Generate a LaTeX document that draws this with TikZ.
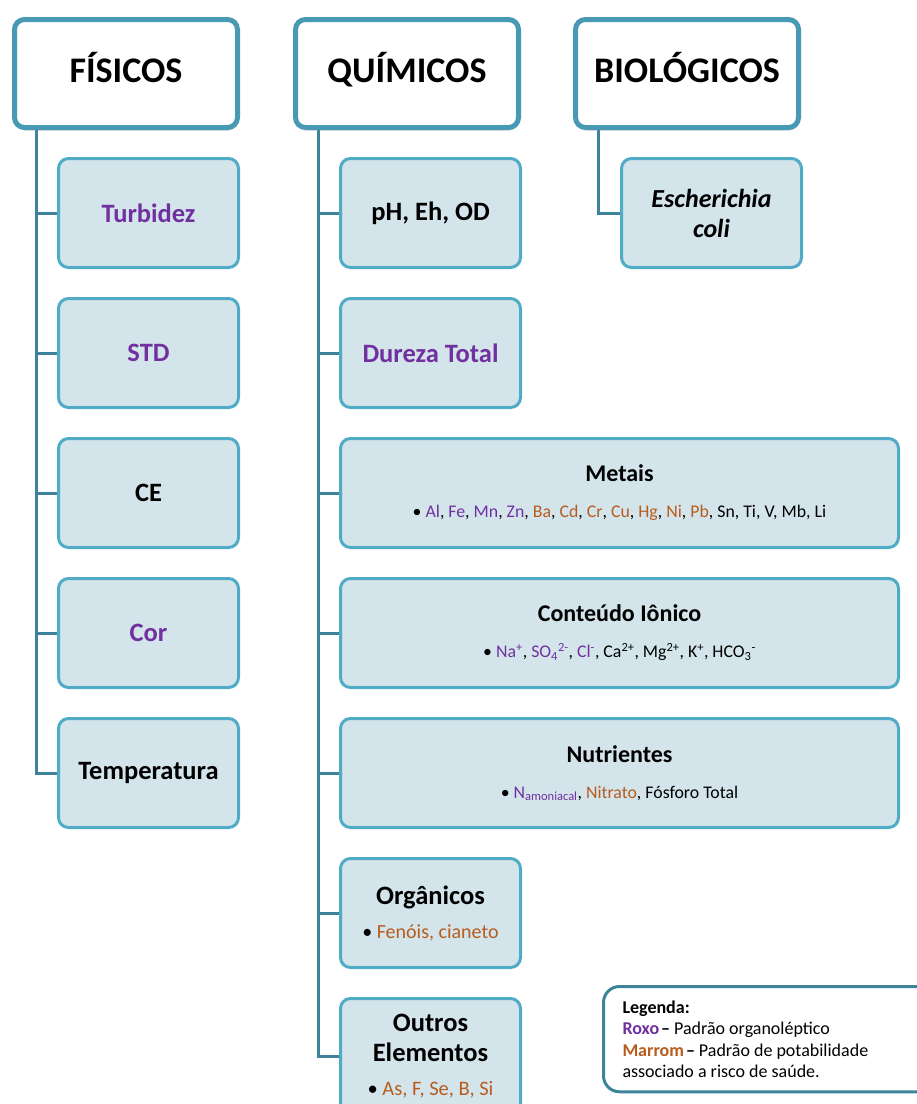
\documentclass[tikz,border=0pt]{standalone}
\usepackage{fontspec}
\setmainfont{Carlito}
\usepackage{xcolor}
\usepackage{tikz}
\usetikzlibrary{positioning}
\usetikzlibrary{shadows}
\definecolor{roxo}{RGB}{112,48,160}
\definecolor{marrom}{RGB}{184,92,30}
\definecolor{headline}{RGB}{72,154,180}
\definecolor{leafline}{RGB}{80,172,198}
\definecolor{leaffill}{RGB}{211,228,234}
\colorlet{connline}{headline!85!black}
\newcommand\rx[1]{{\color{roxo}#1}}
\newcommand\mr[1]{{\color{marrom}#1}}
\newcommand\lst[2][17.8]{{\fontsize{#1}{22}\selectfont\mdseries\textbullet\ #2}}
\newcommand\sub[1]{\textsubscript{#1}}
\newcommand\sps[1]{\textsuperscript{#1}}
\newcommand\trc{\kern2pt–\kern4pt}
\tikzstyle{head}=[draw=headline,line width=5pt,fill=white,rounded corners=10pt,
  minimum width=223pt,minimum height=108pt,text height=27pt,text depth=9pt,
  font=\fontsize{36}{40}\selectfont\bfseries,
  drop shadow={shadow xshift=1pt,shadow yshift=-3pt,opacity=.3}]
\tikzstyle{leaf}=[draw=leafline,line width=3pt,fill=leaffill,rounded corners=10pt,
  minimum width=180pt,minimum height=109pt,align=center,font=\fontsize{26.5}{30}\selectfont\bfseries]
\tikzstyle{wide}=[leaf,minimum width=558pt,font=\fontsize{24}{28}\selectfont\bfseries]
\tikzstyle{conn}=[draw=connline,line width=3pt]
\tikzstyle{legend}=[draw=connline,line width=3pt,fill=white,rounded corners=16pt,
  text width=300pt,align=left,inner xsep=19pt,inner ysep=14pt,minimum height=104pt,
  font=\fontsize{18}{21.5}\selectfont]

\begin{document}
\begin{tikzpicture}[x=1pt,y=-1pt]
	\useasboundingbox (0,0) rectangle (917,1104);
	% cabecalhos
	\node[head,anchor=north west] (fis) at (12,17)  {FÍSICOS};
	\node[head,anchor=north west] (qui) at (293,17) {QUÍMICOS};
	\node[head,anchor=north west] (bio) at (573,17) {BIOLÓGICOS};
	% fisicos
	\node[leaf,anchor=north west] (turb) at (57,157) {\rx{Turbidez}};
	\node[leaf,below=28pt of turb] (std)  {\rx{STD}};
	\node[leaf,below=28pt of std]  (ce)   {CE};
	\node[leaf,below=28pt of ce]   (cor)  {\rx{Cor}};
	\node[leaf,below=28pt of cor]  (temp) {Temperatura};
	% quimicos
	\node[leaf,anchor=north west] (ph) at (339,157) {pH, Eh, OD};
	\node[leaf,below=28pt of ph.south west,anchor=north west] (dur) {\rx{Dureza Total}};
	\node[wide,below=28pt of dur.south west,anchor=north west] (met)
	  {Metais\\[8pt]\lst{\rx{Al}, \rx{Fe}, \rx{Mn}, \rx{Zn}, \mr{Ba}, \mr{Cd}, \mr{Cr}, \mr{Cu}, \mr{Hg}, \mr{Ni}, \mr{Pb}, Sn, Ti, V, Mb, Li}};
	\node[wide,below=28pt of met.south west,anchor=north west] (ion)
	  {Conteúdo Iônico\\[8pt]\lst{\rx{Na\sps{+}}, \rx{SO\sub{4}\sps{2-}}, \rx{Cl\sps{-}}, Ca\sps{2+}, Mg\sps{2+}, K\sps{+}, HCO\sub{3}\sps{-}}};
	\node[wide,below=28pt of ion.south west,anchor=north west] (nut)
	  {Nutrientes\\[8pt]\lst{\rx{N\sub{amoniacal}}, \mr{Nitrato}, Fósforo Total}};
	\node[leaf,below=28pt of nut.south west,anchor=north west] (org)
	  {Orgânicos\\[4pt]\lst[20]{\mr{Fenóis, cianeto}}};
	\node[leaf,below=28pt of org.south west,anchor=north west,minimum height=116pt] (out)
	  {Outros\\Elementos\\[4pt]\lst[20.5]{\mr{As, F, Se, B, Si}}};
	% biologicos
	\node[leaf,anchor=north west,font=\fontsize{26}{30}\selectfont\bfseries\itshape] (eco) at (620,157) {Escherichia\\coli};
	% ligacoes
	\foreach \c in {turb,std,ce,cor,temp}
	  \draw[conn] ([xshift=24pt]fis.south west) |- (\c.west);
	\foreach \c in {ph,dur,met,ion,nut,org,out}
	  \draw[conn] ([xshift=25pt]qui.south west) |- (\c.west);
	\draw[conn] ([xshift=25pt]bio.south west) |- (eco.west);
	% legenda
	\node[legend,anchor=north west] (leg) at (602,985)
	  {\spaceskip=0pt\xspaceskip=0pt
	   \textbf{Legenda:}\\
	   \textbf{\rx{Roxo}\trc}Padrão organoléptico\\
	   \textbf{\mr{Marrom}\trc}Padrão de potabilidade\\
	   associado a risco de saúde.};
\end{tikzpicture}
\end{document}
